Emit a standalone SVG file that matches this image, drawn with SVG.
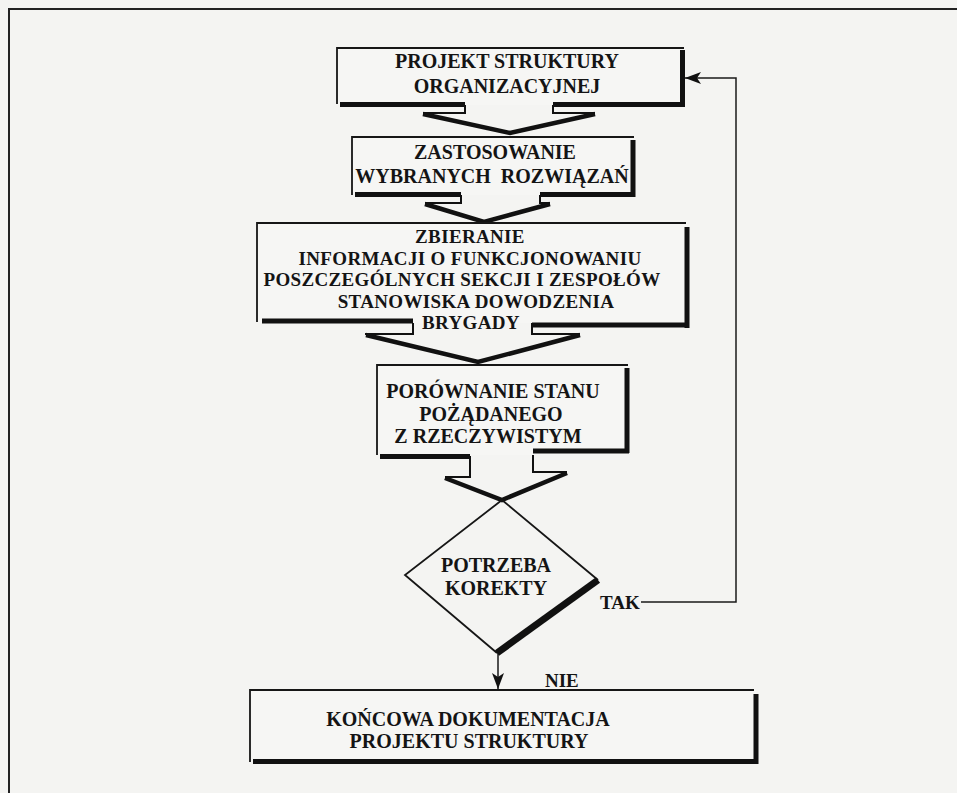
<svg xmlns="http://www.w3.org/2000/svg" width="957" height="793" viewBox="0 0 957 793">
  <defs>
    <style>
      .page { fill: #f4f4f2; }
      .lbl { font-family: "Liberation Serif", "Times New Roman", serif; font-weight: bold; font-size: 20px; fill: #141414; text-anchor: middle; }
      .lbl.dense { font-size: 19px; letter-spacing: 0.35px; }
      .tag { font-family: "Liberation Serif", "Times New Roman", serif; font-weight: bold; font-size: 19px; fill: #141414; }
      .box { fill: #f6f6f4; stroke: none; }
      .edge { fill: none; stroke: #161616; stroke-width: 1.8; }
      .shadow { fill: none; stroke: #111; stroke-width: 5; }
      .chev { fill: none; stroke: #111; stroke-width: 4.5; stroke-linejoin: miter; }
      .stub { fill: none; stroke: #111; stroke-width: 2; }
      .flow { fill: none; stroke: #1a1a1a; stroke-width: 1.5; }
      .frame { fill: none; stroke: #222; stroke-width: 2; }
    </style>
    <marker id="ah" viewBox="0 0 16 12" refX="16" refY="6" markerWidth="16" markerHeight="12" markerUnits="userSpaceOnUse" orient="auto">
      <path d="M0,0 L16,6 L0,12 L4,6 Z" fill="#111"/>
    </marker>
  </defs>

  <rect class="page" x="0" y="0" width="957" height="793"/>

  <!-- page frame -->
  <path class="frame" d="M8,9 H957 M9,9 V793"/>

  <!-- connectors -->
  <g id="connectors">
    <!-- chevrons between boxes -->
    <path class="stub" d="M465,104 V113 H423"/>
    <path class="stub" d="M553,104 V113 H595"/>
    <path class="chev" d="M423,114 L510,133 L595,114"/>

    <path class="stub" d="M461,195 V203 H425"/>
    <path class="stub" d="M540,195 V203 H550"/>
    <path class="chev" d="M425,204 L484,222 L550,204"/>

    <path class="stub" d="M413,322 V334 H365"/>
    <path class="stub" d="M532,322 V334 H580"/>
    <path class="chev" d="M366,335 L478,362 L580,335"/>

    <path class="stub" d="M470,456 V477 H445"/>
    <path class="stub" d="M533,451 V472 H567"/>
    <path class="chev" d="M445,478 L502,500 L567,473"/>

    <!-- TAK: back to the first step -->
    <path class="flow" d="M641,602 H736 V78 H685" marker-end="url(#ah)"/>
    <!-- NIE: down to the final step -->
    <path class="flow" d="M498,653 V689" marker-end="url(#ah)"/>
    <text class="tag" x="600" y="609">TAK</text>
    <text class="tag" x="545" y="687">NIE</text>
  </g>

  <g id="projekt">
    <rect class="box" x="337" y="48" width="345" height="57"/>
    <path class="edge" d="M337,104 V48 H684"/>
    <path class="shadow" d="M682.5,50 V107 M684,104.5 H553 M465,104.5 H340"/>
    <text class="lbl" x="507" y="68">PROJEKT STRUKTURY</text>
    <text class="lbl" x="507" y="93">ORGANIZACYJNEJ</text>
  </g>

  <g id="zastosowanie">
    <rect class="box" x="352" y="137" width="281" height="58"/>
    <path class="edge" d="M352,195 V137 H634"/>
    <path class="shadow" d="M633,140 V197 M635,194.5 H540 M461,194.5 H355"/>
    <text class="lbl" x="495" y="159">ZASTOSOWANIE</text>
    <text class="lbl" x="492" y="183" xml:space="preserve">WYBRANYCH  ROZWIĄZAŃ</text>
  </g>

  <g id="zbieranie">
    <rect class="box" x="257" y="223" width="430" height="100"/>
    <path class="edge" d="M257,322 V223 H686"/>
    <path class="shadow" d="M687,227 V328 M689,325 H532 M413,321 H262"/>
    <text class="lbl dense" x="470" y="243">ZBIERANIE</text>
    <text class="lbl dense" x="470" y="264.5">INFORMACJI O FUNKCJONOWANIU</text>
    <text class="lbl dense" x="462" y="286">POSZCZEGÓLNYCH SEKCJI I ZESPOŁÓW</text>
    <text class="lbl dense" x="476" y="307.5">STANOWISKA DOWODZENIA</text>
    <text class="lbl dense" x="471" y="329">BRYGADY</text>
  </g>

  <g id="porownanie">
    <rect class="box" x="377" y="365" width="250" height="90"/>
    <path class="edge" d="M377,455 V365 H628"/>
    <path class="shadow" d="M627,368 V453 M629,451 H533 M470,456.5 H380"/>
    <text class="lbl" x="493" y="398">PORÓWNANIE STANU</text>
    <text class="lbl" x="491" y="421">POŻĄDANEGO</text>
    <text class="lbl" x="488" y="443">Z RZECZYWISTYM</text>
  </g>

  <g id="korekta">
    <path class="edge" d="M502,500 L598,580 M502,500 L405,575 L497,653"/>
    <path fill="none" stroke="#111" stroke-width="7" d="M598,580 L497,653"/>
    <text class="lbl" x="496" y="572">POTRZEBA</text>
    <text class="lbl" x="496" y="595">KOREKTY</text>
  </g>

  <g id="dokumentacja">
    <rect class="box" x="250" y="690" width="506" height="72"/>
    <path class="edge" d="M250,762 V690 H754"/>
    <path class="shadow" d="M756,694 V764 M758,761.5 H253"/>
    <text class="lbl" x="468" y="726">KOŃCOWA DOKUMENTACJA</text>
    <text class="lbl" x="469" y="748">PROJEKTU STRUKTURY</text>
  </g>
</svg>
